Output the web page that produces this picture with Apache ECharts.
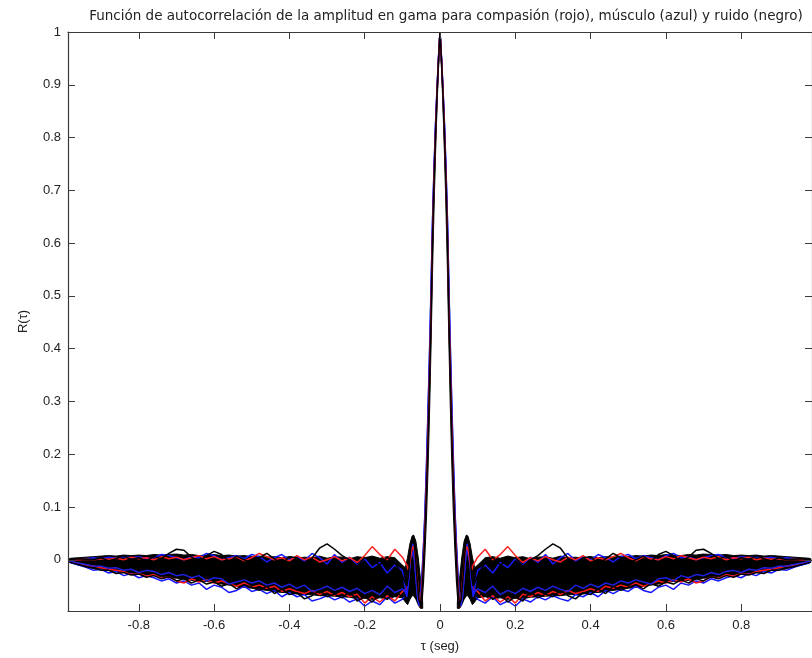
<!DOCTYPE html>
<html>
<head>
<meta charset="utf-8">
<script src="https://cdn.jsdelivr.net/npm/echarts@6/dist/echarts.min.js"></script>
<style>
html,body{margin:0;padding:0;background:#fff;}
#chart{width:812px;height:658px;}
</style>
</head>
<body>
<div id="chart"></div>
<script>
// ---------- data (positive lags; autocorrelation is symmetric, mirrored for negative lags) ----------
const titleText = 'Función de autocorrelación de la amplitud en gama para compasión (rojo), músculo (azul) y ruido (negro)';
const xName = 'τ (seg)';
const yName = 'R(τ)';

const xTickVals = [-0.8, -0.6, -0.4, -0.2, 0, 0.2, 0.4, 0.6, 0.8];
const xTickLabels = ['-0.8', '-0.6', '-0.4', '-0.2', '0', '0.2', '0.4', '0.6', '0.8'];
const yTickVals = [0, 0.1, 0.2, 0.3, 0.4, 0.5, 0.6, 0.7, 0.8, 0.9, 1];
const yTickLabels = ['0', '0.1', '0.2', '0.3', '0.4', '0.5', '0.6', '0.7', '0.8', '0.9', '1'];

const tauPeak = [0, 0.004, 0.008, 0.012, 0.016, 0.020, 0.024, 0.028, 0.032, 0.036, 0.040, 0.044,
  0.048, 0.052, 0.056, 0.060, 0.064, 0.068, 0.072, 0.076, 0.080, 0.084, 0.088];
const tauBand = [
  0.10, 0.12, 0.14, 0.16, 0.18, 0.20, 0.22, 0.24, 0.26, 0.28,
  0.30, 0.32, 0.34, 0.36, 0.38, 0.40, 0.42, 0.44, 0.46, 0.48,
  0.50, 0.52, 0.54, 0.56, 0.58, 0.60, 0.62, 0.64, 0.66, 0.68,
  0.70, 0.72, 0.74, 0.76, 0.78, 0.80, 0.82, 0.84, 0.86, 0.88,
  0.90, 0.92, 0.94, 0.96, 0.98, 0.985];
const tauSide = [0.046, 0.052, 0.058, 0.064, 0.070, 0.074, 0.080, 0.086, 0.092];

// dense black mass (many overlapping traces): upper and lower edges
const massUpper = [
  -0.080, -0.035, 0.005, 0.035, 0.047, 0.045, 0.030, 0.005, -0.015,
  -0.010, 0.004, 0.006, 0.003, 0.007, 0.004, 0.006, 0.002, 0.005, 0.006,
  0.003, 0.007, 0.004, 0.005, 0.003, 0.006, 0.004, 0.006, 0.005, 0.007,
  0.006, 0.008, 0.007, 0.009, 0.008, 0.010, 0.009, 0.008, 0.010, 0.009,
  0.011, 0.010, 0.009, 0.010, 0.008, 0.009, 0.008, 0.009, 0.007, 0.008,
  0.007, 0.006, 0.005, 0.004, 0.003, 0.002];
const massLower = [
  -0.092, -0.092, -0.085, -0.075, -0.068, -0.068, -0.075, -0.085, -0.080,
  -0.072, -0.070, -0.074, -0.072, -0.075, -0.073, -0.074, -0.071, -0.070, -0.069,
  -0.068, -0.068, -0.066, -0.066, -0.065, -0.062, -0.062, -0.060, -0.058, -0.056,
  -0.054, -0.052, -0.050, -0.048, -0.046, -0.043, -0.041, -0.040, -0.039, -0.036,
  -0.035, -0.034, -0.032, -0.030, -0.029, -0.027, -0.026, -0.024, -0.022, -0.020,
  -0.018, -0.016, -0.013, -0.010, -0.006, -0.004];

// individual traces: values at tauPeak followed by values at tauBand
const blackA = [
  1, 0.945, 0.88, 0.80, 0.71, 0.60, 0.45, 0.33, 0.22, 0.13, 0.05, -0.01,
  -0.06, -0.085, -0.075, -0.045, -0.005, 0.03, 0.045, 0.035, 0.005, -0.03, -0.05,
  -0.030, -0.005, 0.005, -0.010, 0.000, 0.004, -0.012, 0.000, 0.008, 0.020,
  0.030, 0.022, 0.003, -0.010, 0.004, 0.006, -0.008, 0.002, 0.012, 0.004,
  -0.006, 0.000, 0.007, -0.004, 0.010, 0.016, 0.008, -0.004, 0.005, 0.018,
  0.020, 0.012, 0.002, 0.006, -0.002, 0.004, 0.000, 0.008, 0.002, -0.002,
  0.004, 0.000, 0.001, 0.002, 0.000, 0.000];
const blackB = [
  1, 0.94, 0.87, 0.78, 0.68, 0.56, 0.42, 0.29, 0.18, 0.09, 0.02, -0.04,
  -0.08, -0.09, -0.07, -0.03, 0.01, 0.035, 0.04, 0.025, -0.01, -0.04, -0.065,
  -0.070, -0.060, -0.075, -0.065, -0.080, -0.070, -0.078, -0.060, -0.072, -0.065,
  -0.070, -0.058, -0.068, -0.074, -0.062, -0.066, -0.055, -0.064, -0.050, -0.058,
  -0.052, -0.047, -0.055, -0.045, -0.050, -0.042, -0.046, -0.038, -0.044, -0.036,
  -0.040, -0.032, -0.036, -0.030, -0.033, -0.027, -0.029, -0.024, -0.026, -0.020,
  -0.020, -0.016, -0.013, -0.009, -0.005, -0.004];
const blueA = [
  1, 0.95, 0.89, 0.82, 0.735, 0.635, 0.50, 0.38, 0.27, 0.17, 0.085, 0.02,
  -0.035, -0.07, -0.085, -0.065, -0.03, 0.005, 0.025, 0.02, -0.005, -0.035, -0.06,
  -0.075, -0.082, -0.070, -0.085, -0.078, -0.088, -0.074, -0.080, -0.070, -0.076,
  -0.068, -0.074, -0.078, -0.066, -0.070, -0.062, -0.070, -0.058, -0.064, -0.056,
  -0.060, -0.050, -0.058, -0.062, -0.052, -0.048, -0.056, -0.044, -0.048, -0.040,
  -0.044, -0.036, -0.040, -0.034, -0.030, -0.034, -0.026, -0.030, -0.022, -0.025,
  -0.018, -0.020, -0.014, -0.010, -0.006, -0.004];
const blueB = [
  1, 0.948, 0.885, 0.81, 0.72, 0.615, 0.47, 0.355, 0.245, 0.15, 0.065, 0.005,
  -0.05, -0.08, -0.08, -0.055, -0.02, 0.015, 0.03, 0.025, -0.005, -0.04, -0.07,
  -0.020, -0.010, -0.025, -0.005, -0.015, 0.002, -0.010, 0.005, -0.005, 0.010,
  -0.008, 0.004, 0.012, -0.002, 0.006, 0.000, 0.010, 0.004, -0.004, 0.006,
  0.010, 0.002, 0.008, 0.004, 0.000, 0.008, 0.012, 0.004, 0.006, 0.000,
  0.004, 0.008, 0.010, 0.004, 0.002, 0.006, 0.004, 0.006, 0.003, 0.005,
  0.002, 0.004, 0.002, 0.001, 0.000, 0.000];
const blueC = [
  1, 0.952, 0.892, 0.825, 0.74, 0.64, 0.51, 0.39, 0.28, 0.18, 0.09, 0.025,
  -0.03, -0.065, -0.088, -0.07, -0.035, 0.0, 0.02, 0.018, -0.01, -0.045, -0.065,
  -0.055, -0.062, -0.050, -0.066, -0.058, -0.064, -0.054, -0.060, -0.052, -0.058,
  -0.050, -0.056, -0.060, -0.048, -0.054, -0.046, -0.052, -0.044, -0.048, -0.040,
  -0.044, -0.038, -0.042, -0.046, -0.036, -0.034, -0.040, -0.030, -0.034, -0.028,
  -0.030, -0.024, -0.028, -0.022, -0.020, -0.024, -0.018, -0.020, -0.015, -0.016,
  -0.012, -0.012, -0.009, -0.006, -0.003, -0.002];
const redA = [
  1, 0.945, 0.882, 0.805, 0.715, 0.605, 0.46, 0.34, 0.23, 0.14, 0.06, -0.005,
  -0.055, -0.09, -0.08, -0.05, -0.015, 0.02, 0.03, 0.02, -0.01, -0.035, -0.055,
  -0.060, -0.078, -0.068, -0.080, -0.070, -0.082, -0.065, -0.070, -0.062, -0.068,
  -0.060, -0.066, -0.058, -0.064, -0.060, -0.055, -0.060, -0.050, -0.054, -0.048,
  -0.052, -0.044, -0.050, -0.046, -0.040, -0.044, -0.038, -0.042, -0.036, -0.044,
  -0.040, -0.032, -0.035, -0.028, -0.031, -0.026, -0.028, -0.022, -0.020, -0.018,
  -0.015, -0.012, -0.010, -0.007, -0.004, -0.003];
const redB = [
  1, 0.947, 0.884, 0.806, 0.718, 0.61, 0.465, 0.345, 0.235, 0.142, 0.06, 0.0,
  -0.052, -0.08, -0.075, -0.04, -0.005, 0.02, 0.025, 0.015, -0.005, -0.02, -0.01,
  0.005, 0.020, 0.000, 0.010, 0.025, 0.008, -0.005, 0.004, -0.002, 0.006,
  0.000, -0.004, 0.005, 0.000, 0.008, -0.002, 0.004, 0.000, 0.006, 0.012,
  0.004, -0.002, 0.005, 0.002, 0.000, 0.006, 0.002, 0.008, 0.004, 0.000,
  0.005, 0.002, 0.006, 0.000, 0.004, 0.002, 0.005, 0.000, 0.003, 0.001,
  0.002, 0.000, 0.001, 0.000, 0.000, 0.000];

// ---------- build ----------
const tauHalf = tauPeak.concat(tauBand);
const tauMass = tauSide.concat(tauBand);

function mirrorFull(taus, vals) {
  const out = [];
  for (let i = taus.length - 1; i >= 0; i--) {
    if (taus[i] === 0) continue;
    out.push([-taus[i], vals[i]]);
  }
  for (let i = 0; i < taus.length; i++) out.push([taus[i], vals[i]]);
  return out;
}

const series = [];
// the dense mass of overlapping traces, one polygon per side, placed through the axes' scales
[-1, 1].forEach(sign => {
  series.push({
    type: 'custom', silent: true, clip: true,
    data: [[sign * 0.5, 0]],
    encode: { x: 0, y: 1 },
    renderItem: function (params, api) {
      const pts = [];
      for (let i = 0; i < tauMass.length; i++) pts.push(api.coord([sign * tauMass[i], massUpper[i]]));
      for (let i = tauMass.length - 1; i >= 0; i--) pts.push(api.coord([sign * tauMass[i], massLower[i]]));
      return {
        type: 'polygon',
        shape: { points: pts },
        style: { fill: '#000', stroke: '#000', lineWidth: 1 }
      };
    }
  });
});

const traces = [
  { v: blueA, c: '#1515ff' },
  { v: redA, c: '#ff1a1a' },
  { v: blackB, c: '#000000' },
  { v: blueC, c: '#2020e0' },
  { v: blueB, c: '#1a1aff' },
  { v: redB, c: '#ff2020' },
  { v: blackA, c: '#000000' }
];
traces.forEach(t => {
  series.push({
    type: 'line', symbol: 'none', silent: true,
    lineStyle: { width: 1.5, color: t.c },
    data: mirrorFull(tauHalf, t.v)
  });
});

function labelFor(vals, labels) {
  return function (v) {
    for (let i = 0; i < vals.length; i++) if (Math.abs(vals[i] - v) < 1e-9) return labels[i];
    return '';
  };
}

const axisCol = '#3a3a3a';
const fontFam = 'Liberation Sans, Arial, Helvetica, sans-serif';
const xMin = -0.988, xMax = 0.988, yMin = -0.097, yMax = 1;

const chart = echarts.init(document.getElementById('chart'), null, { renderer: 'canvas' });
chart.setOption({
  animation: false,
  backgroundColor: '#ffffff',
  title: {
    text: titleText, left: 441, top: 4, textAlign: 'center',
    textStyle: { fontFamily: 'DejaVu Sans, sans-serif', fontSize: 13.5, fontWeight: 'normal', color: '#222' }
  },
  grid: { left: 68, right: -6, top: 32, bottom: 45, containLabel: false },
  xAxis: [
    {
      type: 'value', position: 'bottom', min: xMin, max: xMax, z: 10,
      name: xName, nameLocation: 'middle', nameGap: 29,
      nameTextStyle: { fontFamily: fontFam, fontSize: 13, color: '#222' },
      axisLine: { onZero: false, lineStyle: { color: axisCol, width: 1.2 } },
      axisTick: { inside: true, length: 7, customValues: xTickVals, lineStyle: { color: axisCol } },
      axisLabel: { customValues: xTickVals, formatter: labelFor(xTickVals, xTickLabels), margin: 8,
        fontFamily: fontFam, fontSize: 13, color: '#222' },
      splitLine: { show: false }
    },
    {
      type: 'value', position: 'top', min: xMin, max: xMax, z: 10,
      axisLine: { onZero: false, lineStyle: { color: axisCol, width: 1.2 } },
      axisTick: { inside: true, length: 7, customValues: xTickVals, lineStyle: { color: axisCol } },
      axisLabel: { show: false },
      splitLine: { show: false }
    }
  ],
  yAxis: [
    {
      type: 'value', position: 'left', min: yMin, max: yMax, z: 10,
      name: yName, nameLocation: 'middle', nameGap: 38, nameRotate: 90,
      nameTextStyle: { fontFamily: fontFam, fontSize: 13, color: '#222' },
      axisLine: { onZero: false, lineStyle: { color: axisCol, width: 1.2 } },
      axisTick: { inside: true, length: 7, customValues: yTickVals, lineStyle: { color: axisCol } },
      axisLabel: { customValues: yTickVals, formatter: labelFor(yTickVals, yTickLabels), margin: 7,
        fontFamily: fontFam, fontSize: 13, color: '#222' },
      splitLine: { show: false }
    },
    {
      type: 'value', position: 'right', min: yMin, max: yMax, z: 10,
      axisLine: { onZero: false, lineStyle: { color: axisCol, width: 1.2 } },
      axisTick: { inside: true, length: 7, customValues: yTickVals, lineStyle: { color: axisCol } },
      axisLabel: { show: false },
      splitLine: { show: false }
    }
  ],
  series: series
});
</script>
</body>
</html>
